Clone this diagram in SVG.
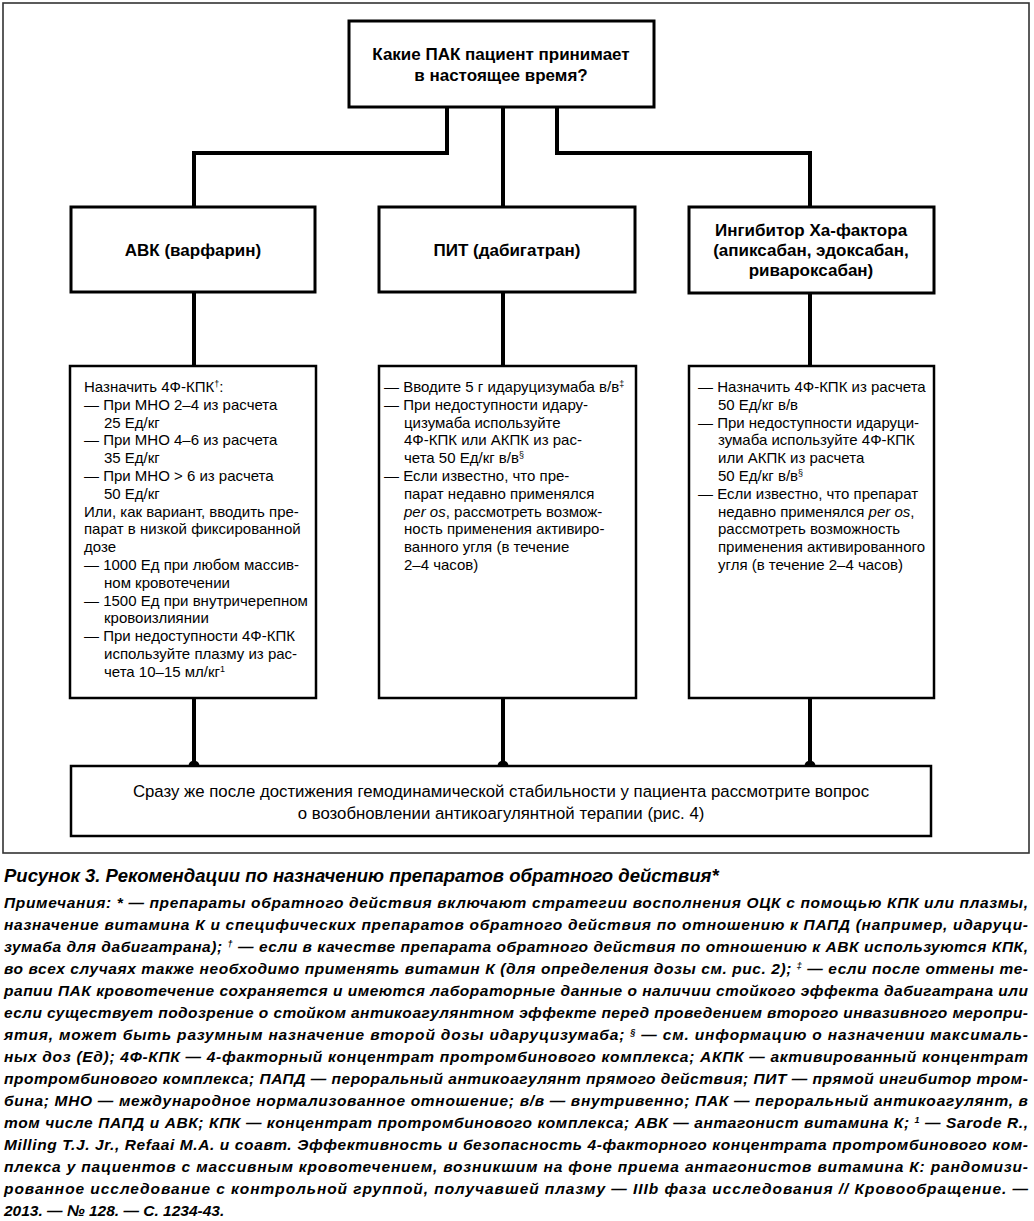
<svg xmlns="http://www.w3.org/2000/svg" width="1034" height="1221" viewBox="0 0 1034 1221">
<style>
.frame{fill:none;stroke:#333;stroke-width:1.6}
.box{fill:#fff;stroke:#000;stroke-width:3}
.cbox{fill:#fff;stroke:#000;stroke-width:2.5}
.conn{fill:none;stroke:#000;stroke-width:4}
.dot{fill:#000}
.h{font-family:"Liberation Sans",Arial,sans-serif;font-weight:bold;font-size:17px;text-anchor:middle;fill:#000}
.b{font-family:"Liberation Sans",Arial,sans-serif;font-size:15px;fill:#000}
.bt{font-family:"Liberation Sans",Arial,sans-serif;font-size:16.8px;text-anchor:middle;fill:#000}
.t{font-family:"Liberation Sans",Arial,sans-serif;font-weight:bold;font-style:italic;font-size:18.5px;fill:#000}
.n{font-family:"Liberation Sans",Arial,sans-serif;font-weight:bold;font-style:italic;font-size:15.5px;fill:#000}
.sup{font-size:9px}
</style>
<rect class="frame" x="3" y="3" width="1026" height="850"/>
<g id="connectors">
<path class="conn" d="M447,107 V153 H194 V207"/>
<path class="conn" d="M503,107 V207"/>
<path class="conn" d="M557,107 V153 H810 V207"/>
<path class="conn" d="M194,292 V366"/>
<path class="conn" d="M503,292 V366"/>
<path class="conn" d="M810,292 V366"/>
<path class="conn" d="M194,698 V766"/>
<path class="conn" d="M503,698 V766"/>
<path class="conn" d="M810,698 V766"/>
<circle class="dot" cx="194" cy="766" r="5.5"/>
<circle class="dot" cx="503" cy="766" r="5.5"/>
<circle class="dot" cx="810" cy="766" r="5.5"/>
</g>
<g id="question">
<rect class="box" x="349" y="21" width="305" height="86"/>
<text class="h" x="501" y="60">Какие ПАК пациент принимает</text>
<text class="h" x="501" y="81">в настоящее время?</text>
</g>
<g id="avk">
<rect class="box" x="71" y="207" width="244" height="85"/>
<text class="h" x="193" y="256">АВК (варфарин)</text>
</g>
<g id="pit">
<rect class="box" x="379" y="207" width="256" height="85"/>
<text class="h" x="507" y="256">ПИТ (дабигатран)</text>
</g>
<g id="xa">
<rect class="box" x="689" y="207" width="245" height="86"/>
<text class="h" x="811" y="236">Ингибитор Ха-фактора</text>
<text class="h" x="811" y="256">(апиксабан, эдоксабан,</text>
<text class="h" x="811" y="276">ривароксабан)</text>
</g>
<g id="avk-actions">
<rect class="cbox" x="70" y="366" width="246" height="332"/>
<text class="b" x="84" y="392">Назначить 4Ф-КПК<tspan class="sup" dy="-5">†</tspan><tspan dy="5">:</tspan></text>
<text class="b" x="84" y="409.8">— При МНО 2–4 из расчета</text>
<text class="b" x="104" y="427.6">25 Ед/кг</text>
<text class="b" x="84" y="445.4">— При МНО 4–6 из расчета</text>
<text class="b" x="104" y="463.2">35 Ед/кг</text>
<text class="b" x="84" y="481">— При МНО &gt; 6 из расчета</text>
<text class="b" x="104" y="498.8">50 Ед/кг</text>
<text class="b" x="84" y="516.6">Или, как вариант, вводить пре-</text>
<text class="b" x="84" y="534.4">парат в низкой фиксированной</text>
<text class="b" x="84" y="552.2">дозе</text>
<text class="b" x="84" y="570">— 1000 Ед при любом массив-</text>
<text class="b" x="104" y="587.8">ном кровотечении</text>
<text class="b" x="84" y="605.6">— 1500 Ед при внутричерепном</text>
<text class="b" x="104" y="623.4">кровоизлиянии</text>
<text class="b" x="84" y="641.2">— При недоступности 4Ф-КПК</text>
<text class="b" x="104" y="659">используйте плазму из рас-</text>
<text class="b" x="104" y="676.8">чета 10–15 мл/кг<tspan class="sup" dy="-5">1</tspan></text>
</g>
<g id="pit-actions">
<rect class="cbox" x="379" y="366" width="257" height="332"/>
<text class="b" x="384" y="392">— Вводите 5 г идаруцизумаба в/в<tspan class="sup" dy="-5">‡</tspan></text>
<text class="b" x="384" y="409.8">— При недоступности идару-</text>
<text class="b" x="404" y="427.6">цизумаба используйте</text>
<text class="b" x="404" y="445.4">4Ф-КПК или АКПК из рас-</text>
<text class="b" x="404" y="463.2">чета 50 Ед/кг в/в<tspan class="sup" dy="-5">§</tspan></text>
<text class="b" x="384" y="481">— Если известно, что пре-</text>
<text class="b" x="404" y="498.8">парат недавно применялся</text>
<text class="b" x="404" y="516.6"><tspan font-style="italic">per os</tspan>, рассмотреть возмож-</text>
<text class="b" x="404" y="534.4">ность применения активиро-</text>
<text class="b" x="404" y="552.2">ванного угля (в течение</text>
<text class="b" x="404" y="570">2–4 часов)</text>
</g>
<g id="xa-actions">
<rect class="cbox" x="689" y="366" width="245" height="332"/>
<text class="b" x="698" y="392">— Назначить 4Ф-КПК из расчета</text>
<text class="b" x="718" y="409.8">50 Ед/кг в/в</text>
<text class="b" x="698" y="427.6">— При недоступности идаруци-</text>
<text class="b" x="718" y="445.4">зумаба используйте 4Ф-КПК</text>
<text class="b" x="718" y="463.2">или АКПК из расчета</text>
<text class="b" x="718" y="481">50 Ед/кг в/в<tspan class="sup" dy="-5">§</tspan></text>
<text class="b" x="698" y="498.8">— Если известно, что препарат</text>
<text class="b" x="718" y="516.6">недавно применялся <tspan font-style="italic">per os</tspan>,</text>
<text class="b" x="718" y="534.4">рассмотреть возможность</text>
<text class="b" x="718" y="552.2">применения активированного</text>
<text class="b" x="718" y="570">угля (в течение 2–4 часов)</text>
</g>
<g id="resume">
<rect class="cbox" x="71" y="766" width="860" height="70"/>
<text class="bt" x="501" y="797">Сразу же после достижения гемодинамической стабильности у пациента рассмотрите вопрос</text>
<text class="bt" x="501" y="819">о возобновлении антикоагулянтной терапии (рис. 4)</text>
</g>
<g id="caption">
<text class="t" x="4" y="882">Рисунок 3. Рекомендации по назначению препаратов обратного действия*</text>
<text class="n" x="4" y="908" textLength="1024" lengthAdjust="spacing">Примечания: * — препараты обратного действия включают стратегии восполнения ОЦК с помощью КПК или плазмы,</text>
<text class="n" x="4" y="930" textLength="1024" lengthAdjust="spacing">назначение витамина К и специфических препаратов обратного действия по отношению к ПАПД (например, идаруци-</text>
<text class="n" x="4" y="952" textLength="1024" lengthAdjust="spacing">зумаба для дабигатрана); <tspan class="sup" dy="-5">†</tspan><tspan dy="5"> — если в качестве препарата обратного действия по отношению к АВК используются КПК,</tspan></text>
<text class="n" x="4" y="974" textLength="1024" lengthAdjust="spacing">во всех случаях также необходимо применять витамин К (для определения дозы см. рис. 2); <tspan class="sup" dy="-5">‡</tspan><tspan dy="5"> — если после отмены те-</tspan></text>
<text class="n" x="4" y="996" textLength="1024" lengthAdjust="spacing">рапии ПАК кровотечение сохраняется и имеются лабораторные данные о наличии стойкого эффекта дабигатрана или</text>
<text class="n" x="4" y="1018" textLength="1024" lengthAdjust="spacing">если существует подозрение о стойком антикоагулянтном эффекте перед проведением второго инвазивного меропри-</text>
<text class="n" x="4" y="1040" textLength="1024" lengthAdjust="spacing">ятия, может быть разумным назначение второй дозы идаруцизумаба; <tspan class="sup" dy="-5">§</tspan><tspan dy="5"> — см. информацию о назначении максималь-</tspan></text>
<text class="n" x="4" y="1062" textLength="1024" lengthAdjust="spacing">ных доз (Ед); 4Ф-КПК — 4-факторный концентрат протромбинового комплекса; АКПК — активированный концентрат</text>
<text class="n" x="4" y="1084" textLength="1024" lengthAdjust="spacing">протромбинового комплекса; ПАПД — пероральный антикоагулянт прямого действия; ПИТ — прямой ингибитор тром-</text>
<text class="n" x="4" y="1106" textLength="1024" lengthAdjust="spacing">бина; МНО — международное нормализованное отношение; в/в — внутривенно; ПАК — пероральный антикоагулянт, в</text>
<text class="n" x="4" y="1128" textLength="1024" lengthAdjust="spacing">том числе ПАПД и АВК; КПК — концентрат протромбинового комплекса; АВК — антагонист витамина К; <tspan class="sup" dy="-5">1</tspan><tspan dy="5"> — Sarode R.,</tspan></text>
<text class="n" x="4" y="1150" textLength="1024" lengthAdjust="spacing">Milling T.J. Jr., Refaai M.A. и соавт. Эффективность и безопасность 4-факторного концентрата протромбинового ком-</text>
<text class="n" x="4" y="1172" textLength="1024" lengthAdjust="spacing">плекса у пациентов с массивным кровотечением, возникшим на фоне приема антагонистов витамина К: рандомизи-</text>
<text class="n" x="4" y="1194" textLength="1024" lengthAdjust="spacing">рованное исследование с контрольной группой, получавшей плазму — IIIb фаза исследования // Кровообращение. —</text>
<text class="n" x="4" y="1216">2013. — № 128. — С. 1234-43.</text>
</g>
</svg>
